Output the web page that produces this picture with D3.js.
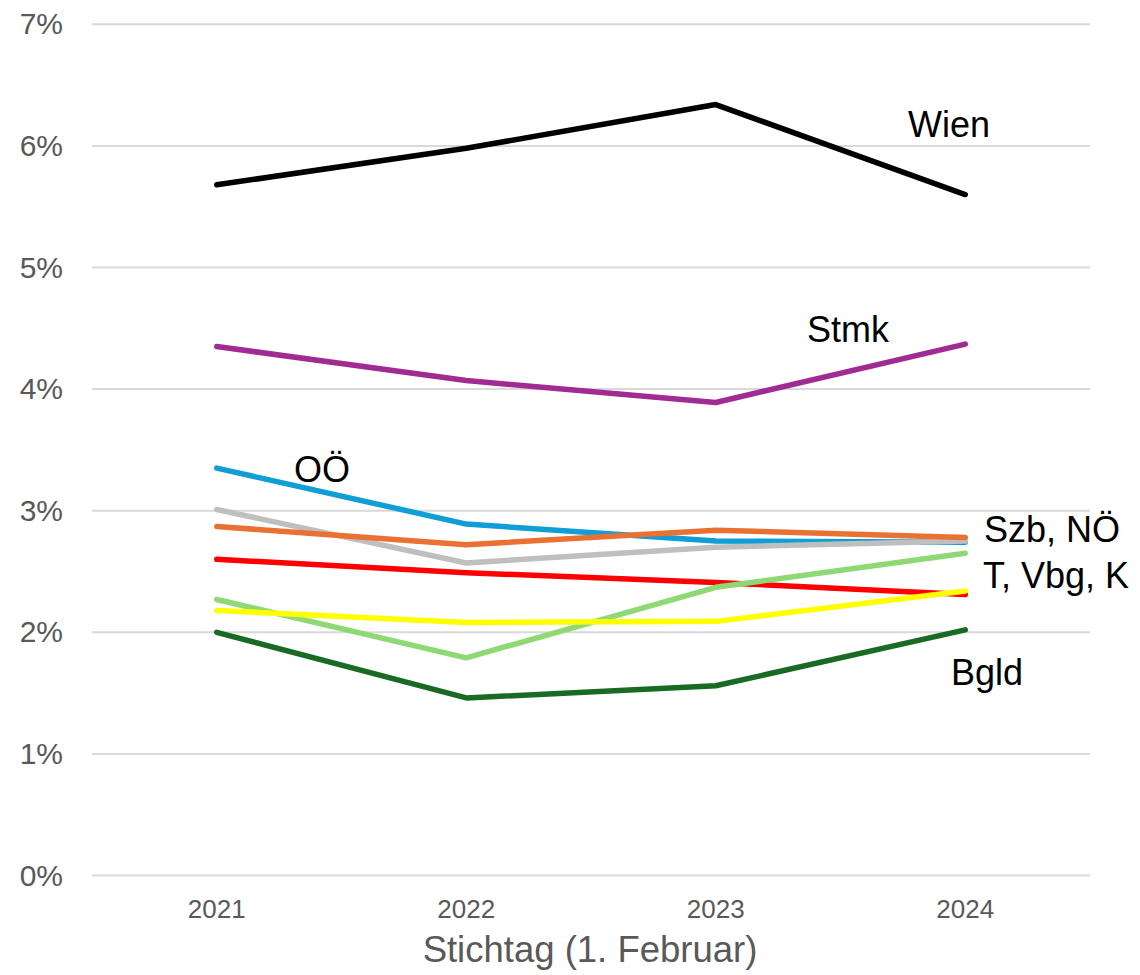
<!DOCTYPE html>
<html>
<head>
<meta charset="utf-8">
<script src="https://cdn.jsdelivr.net/npm/d3@7"></script>
<style>
  html, body { margin: 0; padding: 0; background: #fff; }
  svg { display: block; font-family: "Liberation Sans", Arial, sans-serif; }
</style>
</head>
<body>
<svg id="chart" width="1140" height="975"></svg>
<script>
// Years (Stichtag 1. Februar)
const years = ["2021", "2022", "2023", "2024"];

// Share per Bundesland, in percent
const wien = [5.68, 5.98, 6.34, 5.60];
const stmk = [4.35, 4.07, 3.89, 4.37];
const ooe  = [3.35, 2.89, 2.75, 2.74];
const noe  = [3.01, 2.57, 2.70, 2.75];
const szb  = [2.87, 2.72, 2.84, 2.78];
const tirol = [2.60, 2.49, 2.41, 2.31];
const vbg  = [2.27, 1.79, 2.37, 2.65];
const kaernten = [2.18, 2.08, 2.09, 2.34];
const bgld = [2.00, 1.46, 1.56, 2.02];

const yTicks = [0, 1, 2, 3, 4, 5, 6, 7];

const series = [
  { name: "Wien", values: wien, color: "#000000" },
  { name: "Stmk", values: stmk, color: "#A02B93" },
  { name: "OÖ", values: ooe, color: "#0F9ED5" },
  { name: "NÖ", values: noe, color: "#BFBFBF" },
  { name: "Szb", values: szb, color: "#E97132" },
  { name: "T", values: tirol, color: "#FF0000" },
  { name: "Vbg", values: vbg, color: "#8ED973" },
  { name: "K", values: kaernten, color: "#FFFF00" },
  { name: "Bgld", values: bgld, color: "#196B24" }
];

// Line-end labels
const labels = [
  { text: "Wien", x: 908, y: 137 },
  { text: "Stmk", x: 807, y: 342 },
  { text: "OÖ", x: 294, y: 482 },
  { text: "Szb, NÖ", x: 984, y: 542 },
  { text: "T, Vbg, K", x: 983, y: 588 },
  { text: "Bgld", x: 951, y: 685 }
];

const svg = d3.select("#chart");
const plotLeft = 92, plotRight = 1090, plotTop = 24.3, plotBottom = 875.5;

const x = d3.scalePoint().domain(years).range([plotLeft, plotRight]).padding(0.5);
const y = d3.scaleLinear().domain([0, 7]).range([plotBottom, plotTop]);

// Horizontal gridlines
svg.append("g")
  .selectAll("line")
  .data(yTicks)
  .join("line")
  .attr("x1", plotLeft).attr("x2", plotRight)
  .attr("y1", d => y(d)).attr("y2", d => y(d))
  .attr("stroke", "#D9D9D9")
  .attr("stroke-width", 2);

// Y axis labels
svg.append("g")
  .selectAll("text")
  .data(yTicks)
  .join("text")
  .attr("x", 63)
  .attr("y", d => y(d) + 10)
  .attr("text-anchor", "end")
  .attr("font-size", 30)
  .attr("fill", "#595959")
  .text(d => d + "%");

// X axis labels
svg.append("g")
  .selectAll("text")
  .data(years)
  .join("text")
  .attr("x", d => x(d))
  .attr("y", 918)
  .attr("text-anchor", "middle")
  .attr("font-size", 26)
  .attr("fill", "#595959")
  .text(d => d);

// X axis title
svg.append("text")
  .attr("x", 590)
  .attr("y", 962)
  .attr("text-anchor", "middle")
  .attr("font-size", 36.5)
  .attr("fill", "#595959")
  .text("Stichtag (1. Februar)");

// Lines
const line = d3.line()
  .x((d, i) => x(years[i]))
  .y(d => y(d));

svg.append("g")
  .selectAll("path")
  .data(series)
  .join("path")
  .attr("d", d => line(d.values))
  .attr("fill", "none")
  .attr("stroke", d => d.color)
  .attr("stroke-width", 5.5)
  .attr("stroke-linejoin", "round")
  .attr("stroke-linecap", "round");

// Region labels
svg.append("g")
  .selectAll("text")
  .data(labels)
  .join("text")
  .attr("x", d => d.x)
  .attr("y", d => d.y)
  .attr("font-size", 36)
  .attr("fill", "#000")
  .text(d => d.text);
</script>
</body>
</html>
